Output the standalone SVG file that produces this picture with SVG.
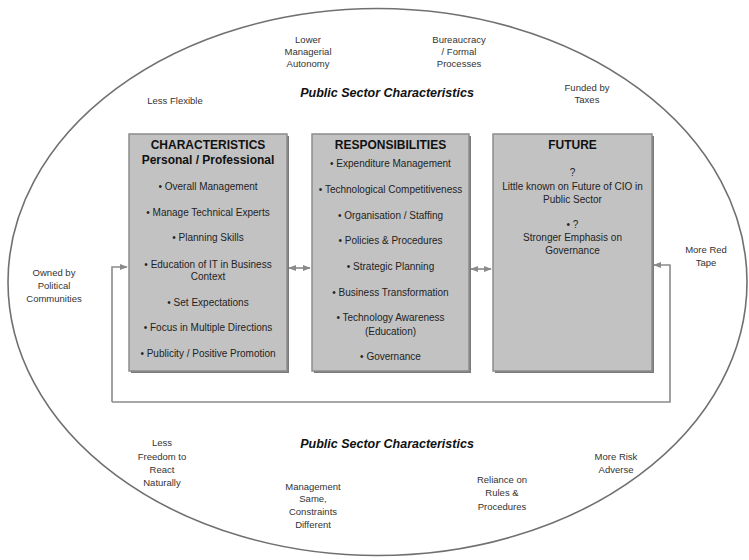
<svg xmlns="http://www.w3.org/2000/svg" width="749" height="560" viewBox="0 0 749 560">
  <defs>
    <style>
      .outer { font-family: "Liberation Sans", Arial, sans-serif; font-size: 9.5px; fill: #333; text-anchor: middle; }
      .band { font-family: "Liberation Sans", Arial, sans-serif; font-size: 12.5px; font-weight: bold; font-style: italic; fill: #111; text-anchor: middle; }
      .title { font-family: "Liberation Sans", Arial, sans-serif; font-size: 12px; font-weight: bold; fill: #111; text-anchor: middle; }
      .item { font-family: "Liberation Sans", Arial, sans-serif; font-size: 10px; fill: #222; text-anchor: middle; }
      .box { fill: #c2c2c2; stroke: #8c8c8c; stroke-width: 1.5; }
      .shadow { fill: #7a7a7a; }
      .line { fill: none; stroke: #8a8a8a; stroke-width: 1.6; }
    </style>
    <marker id="head" viewBox="0 0 10 10" refX="9" refY="5" markerWidth="5" markerHeight="5" orient="auto-start-reverse">
      <path d="M0,1 L10,5 L0,9 z" fill="#8a8a8a"/>
    </marker>
  </defs>

  <rect width="749" height="560" fill="#ffffff"/>

  <!-- outer boundary -->
  <ellipse cx="377.5" cy="282" rx="369.5" ry="273.5" fill="none" stroke="#707070" stroke-width="1.6"/>

  <!-- surrounding labels -->
  <g id="labels-top">
    <text class="outer" x="308" y="43">Lower</text>
    <text class="outer" x="308" y="55">Managerial</text>
    <text class="outer" x="308" y="67">Autonomy</text>
    <text class="outer" x="459" y="43">Bureaucracy</text>
    <text class="outer" x="459" y="55">/ Formal</text>
    <text class="outer" x="459" y="67">Processes</text>
    <text class="band" x="387" y="97">Public Sector Characteristics</text>
    <text class="outer" x="175" y="104">Less Flexible</text>
    <text class="outer" x="587" y="91">Funded by</text>
    <text class="outer" x="587" y="103">Taxes</text>
  </g>
  <g id="labels-sides">
    <text class="outer" x="54" y="276">Owned by</text>
    <text class="outer" x="54" y="289">Political</text>
    <text class="outer" x="54" y="302">Communities</text>
    <text class="outer" x="706" y="253">More Red</text>
    <text class="outer" x="706" y="266">Tape</text>
  </g>
  <g id="labels-bottom">
    <text class="band" x="387" y="448">Public Sector Characteristics</text>
    <text class="outer" x="162" y="446">Less</text>
    <text class="outer" x="162" y="460">Freedom to</text>
    <text class="outer" x="162" y="473">React</text>
    <text class="outer" x="162" y="486">Naturally</text>
    <text class="outer" x="313" y="490">Management</text>
    <text class="outer" x="313" y="502">Same,</text>
    <text class="outer" x="313" y="515">Constraints</text>
    <text class="outer" x="313" y="528">Different</text>
    <text class="outer" x="502" y="483">Reliance on</text>
    <text class="outer" x="502" y="496">Rules &amp;</text>
    <text class="outer" x="502" y="510">Procedures</text>
    <text class="outer" x="616" y="460">More Risk</text>
    <text class="outer" x="616" y="473">Adverse</text>
  </g>

  <!-- connectors -->
  <g id="connectors">
    <line class="line" x1="289" y1="268" x2="310" y2="268" marker-start="url(#head)" marker-end="url(#head)"/>
    <line class="line" x1="471" y1="269" x2="491" y2="269" marker-start="url(#head)" marker-end="url(#head)"/>
    <polyline class="line" points="112,402 112,267 127,267" marker-end="url(#head)"/>
    <polyline class="line" points="112,402 670,402 670,265 654,265" marker-end="url(#head)"/>
  </g>

  <!-- characteristics box -->
  <g id="characteristics">
    <rect class="shadow" x="131" y="136" width="158" height="237"/>
    <rect class="box" x="129" y="134" width="158" height="237"/>
    <text class="title" x="208" y="149">CHARACTERISTICS</text>
    <text class="title" x="208" y="164">Personal / Professional</text>
    <text class="item" x="208" y="190">• Overall Management</text>
    <text class="item" x="208" y="216">• Manage Technical Experts</text>
    <text class="item" x="208" y="241">• Planning Skills</text>
    <text class="item" x="208" y="268">• Education of IT in Business</text>
    <text class="item" x="208" y="280">Context</text>
    <text class="item" x="208" y="306">• Set Expectations</text>
    <text class="item" x="208" y="331">• Focus in Multiple Directions</text>
    <text class="item" x="208" y="357">• Publicity / Positive Promotion</text>
  </g>

  <!-- responsibilities box -->
  <g id="responsibilities">
    <rect class="shadow" x="314" y="136" width="157" height="237"/>
    <rect class="box" x="312" y="134" width="157" height="237"/>
    <text class="title" x="390.5" y="149">RESPONSIBILITIES</text>
    <text class="item" x="390.5" y="167">• Expenditure Management</text>
    <text class="item" x="390.5" y="193">• Technological Competitiveness</text>
    <text class="item" x="390.5" y="219">• Organisation / Staffing</text>
    <text class="item" x="390.5" y="244">• Policies &amp; Procedures</text>
    <text class="item" x="390.5" y="270">• Strategic Planning</text>
    <text class="item" x="390.5" y="296">• Business Transformation</text>
    <text class="item" x="390.5" y="321">• Technology Awareness</text>
    <text class="item" x="390.5" y="335">(Education)</text>
    <text class="item" x="390.5" y="360">• Governance</text>
  </g>

  <!-- future box -->
  <g id="future">
    <rect class="shadow" x="495" y="136" width="159" height="237"/>
    <rect class="box" x="493" y="134" width="159" height="237"/>
    <text class="title" x="572.5" y="149">FUTURE</text>
    <text class="item" x="572.5" y="176">?</text>
    <text class="item" x="572.5" y="190">Little known on Future of CIO in</text>
    <text class="item" x="572.5" y="203">Public Sector</text>
    <text class="item" x="572.5" y="228">• ?</text>
    <text class="item" x="572.5" y="241">Stronger Emphasis on</text>
    <text class="item" x="572.5" y="254">Governance</text>
  </g>
</svg>
